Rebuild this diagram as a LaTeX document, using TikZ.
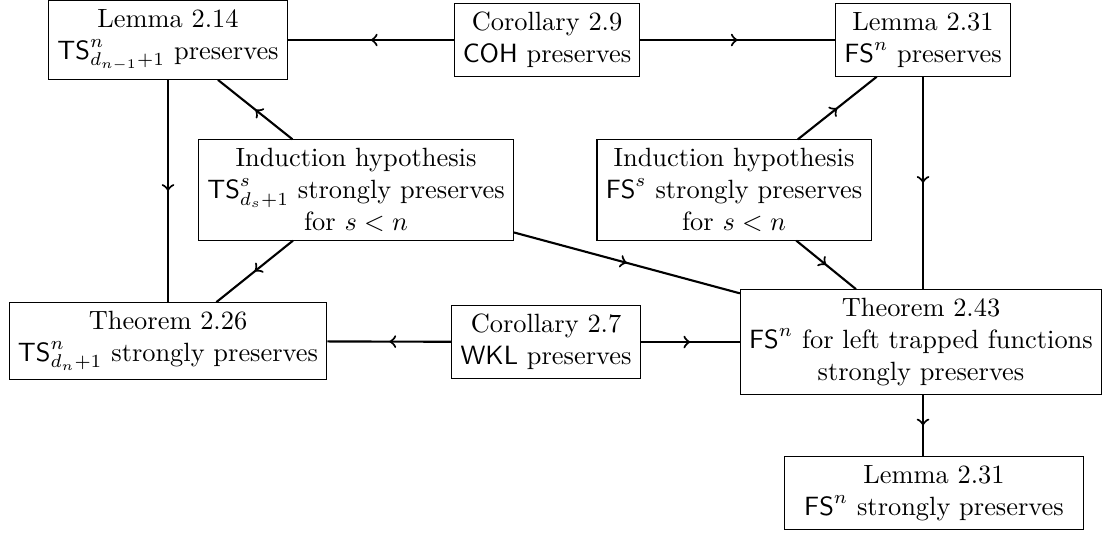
\documentclass[tikz,border=0pt]{standalone}
\usetikzlibrary{decorations.markings}
\tikzset{
  box/.style={draw, align=center, inner sep=3.33pt},
  conn/.style={thick, postaction={decorate},
    decoration={markings, mark=at position 0.5 with {\arrow{>}}}}
}
\begin{document}
\begin{tikzpicture}[x=0.3788pt,y=-0.3788pt]
\useasboundingbox (0,0) rectangle (1111,533);
\node[box] (L214) at (168,40) {Lemma 2.14\\$\mathsf{TS}^n_{d_{n-1}+1}$ preserves};
\node[box] (C29) at (547,40) {Corollary 2.9\\$\mathsf{COH}$ preserves};
\node[box] (L231t) at (923,40) {Lemma 2.31\\$\mathsf{FS}^n$ preserves};
\node[box] (ITS) at (356,190) {Induction hypothesis\\$\mathsf{TS}^s_{d_s+1}$ strongly preserves\\for $s<n$};
\node[box] (IFS) at (734,190) {Induction hypothesis\\$\mathsf{FS}^s$ strongly preserves\\for $s<n$};
\node[box] (T226) at (168,341) {Theorem 2.26\\$\mathsf{TS}^n_{d_n+1}$ strongly preserves};
\node[box] (C27) at (546,342) {Corollary 2.7\\$\mathsf{WKL}$ preserves};
\node[box] (T243) at (921,342) {Theorem 2.43\\$\mathsf{FS}^n$ for left trapped functions\\strongly preserves};
\node[box, minimum width=113pt] (L231b) at (934,493) {Lemma 2.31\\$\mathsf{FS}^n$ strongly preserves};
\draw[conn] (C29) -- (L214);
\draw[conn] (C29) -- (L231t);
\draw[conn] (L214.south) -- (L214.south |- T226.north);
\draw[conn] (ITS) -- (L214);
\draw[conn] (ITS) -- (T226);
\draw[conn] (ITS) -- (T243);
\draw[conn] (IFS) -- (L231t);
\draw[conn] (IFS) -- (T243);
\draw[conn] (L231t.south) -- (L231t.south |- T243.north);
\draw[conn] (C27) -- (T226);
\draw[conn] (C27) -- (T243);
\draw[conn] (L231t.south |- T243.south) -- (L231t.south |- L231b.north);
\end{tikzpicture}
\end{document}
